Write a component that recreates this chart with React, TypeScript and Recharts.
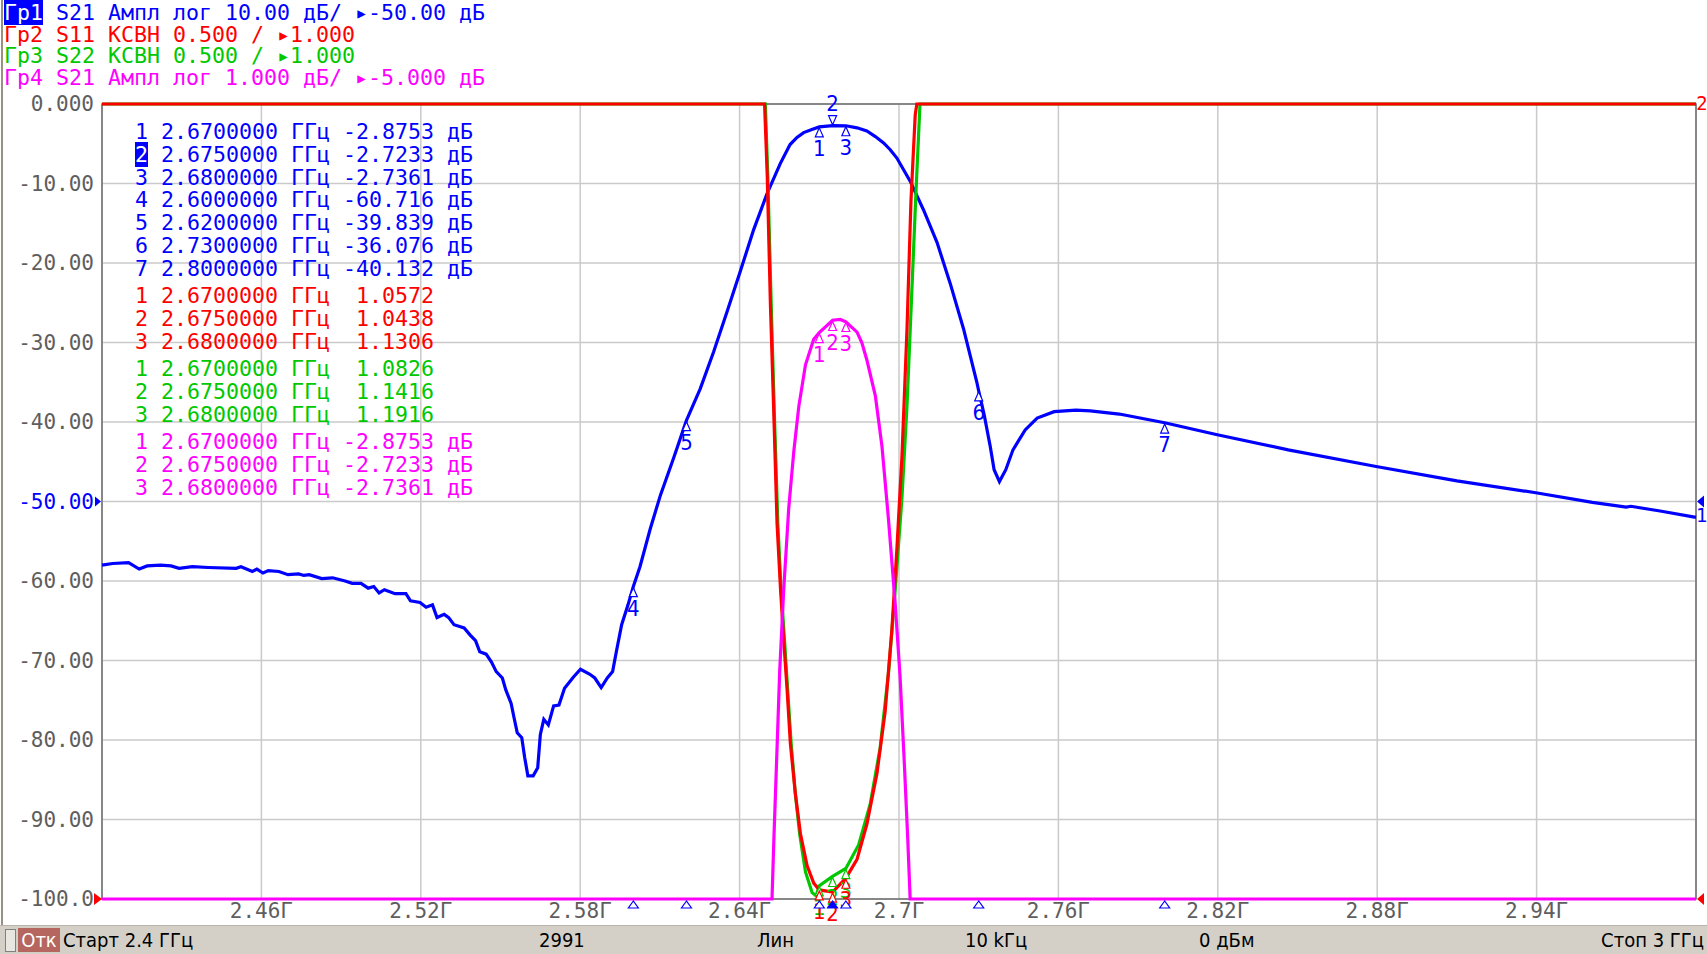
import React from 'react';
import {
  LineChart,
  Line,
  XAxis,
  YAxis,
  CartesianGrid,
  ReferenceArea,
  ReferenceDot,
} from 'recharts';

const BLUE = '#0000ff';
const RED = '#ff0000';
const GREEN = '#00c800';
const MAGENTA = '#ff00ff';
const AXIS_TEXT = '#5e5e5e';
const MONO = '"DejaVu Sans Mono", "Liberation Mono", monospace';
const NARROW = '"Liberation Sans Narrow", "DejaVu Sans Condensed", "Liberation Sans", sans-serif';

// оси
const xTicks = [2.46, 2.52, 2.58, 2.64, 2.7, 2.76, 2.82, 2.88, 2.94];
const xTickLabels = ['2.46Г', '2.52Г', '2.58Г', '2.64Г', '2.7Г', '2.76Г', '2.82Г', '2.88Г', '2.94Г'];
const yTicks = [0, -10, -20, -30, -40, -50, -60, -70, -80, -90, -100];
const yTickLabels = ['0.000', '-10.00', '-20.00', '-30.00', '-40.00', '-50.00', '-60.00', '-70.00', '-80.00', '-90.00', '-100.0'];

// Гр1: S21, дБ (10 дБ/дел)
const s21Freq = [
  2.4, 2.404, 2.41, 2.414, 2.417, 2.422, 2.426, 2.429, 2.434, 2.44, 2.4505, 2.4523, 2.4566, 2.4583,
  2.4606, 2.4626, 2.4666, 2.47, 2.474, 2.476, 2.478, 2.4827, 2.4868, 2.4915, 2.4942, 2.4975, 2.5002,
  2.5023, 2.5043, 2.5063, 2.5103, 2.5144, 2.5161, 2.5197, 2.522, 2.5244, 2.5261, 2.5288, 2.5305,
  2.5325, 2.5363, 2.5386, 2.5406, 2.5422, 2.5446, 2.5466, 2.5484, 2.5507, 2.552, 2.554, 2.5551,
  2.5563, 2.558, 2.5591, 2.5603, 2.5623, 2.564, 2.565, 2.5663, 2.568, 2.57, 2.572, 2.5741, 2.5774,
  2.5801, 2.5835, 2.5855, 2.5879, 2.5902, 2.5922, 2.5936, 2.5956, 2.598, 2.6, 2.6025, 2.6064, 2.6102,
  2.6152, 2.62, 2.6252, 2.6302, 2.6353, 2.6403, 2.6453, 2.6503, 2.6553, 2.659, 2.6616, 2.6641, 2.6672,
  2.67, 2.675, 2.68, 2.6842, 2.6879, 2.6911, 2.6942, 2.6967, 2.6992, 2.7042, 2.7092, 2.7143, 2.7193,
  2.7243, 2.7293, 2.73, 2.732, 2.7343, 2.7358, 2.7378, 2.7402, 2.7429, 2.7475, 2.752, 2.7584, 2.7666,
  2.772, 2.7829, 2.8, 2.8198, 2.8465, 2.8796, 2.91, 2.9397, 2.961, 2.9737, 2.9755, 2.9865, 3.0,
];
const s21Db = [
  -58.0, -57.8, -57.7, -58.5, -58.1, -58.0, -58.1, -58.4, -58.2, -58.3, -58.4, -58.2, -58.8, -58.5,
  -59.0, -58.7, -58.8, -59.2, -59.1, -59.3, -59.2, -59.7, -59.6, -60.0, -60.3, -60.3, -60.9,
  -60.7, -61.5, -61.1, -61.6, -61.6, -62.5, -62.7, -63.3, -63.0, -64.6, -64.2, -64.6,
  -65.5, -65.9, -66.8, -67.5, -68.9, -69.2, -70.2, -71.4, -72.2, -73.7, -75.4, -77.2,
  -79.1, -79.7, -82.2, -84.5, -84.5, -83.5, -79.3, -77.4, -78.1, -75.7, -75.6, -73.5, -72.1,
  -71.1, -71.7, -72.2, -73.4, -72.2, -71.4, -68.9, -65.5, -63.0, -60.7, -58.2, -53.4, -49.2,
  -44.5, -39.8, -35.8, -31.2, -26.1, -21.0, -15.8, -11.3, -7.5, -5.1, -4.2, -3.6, -3.2,
  -2.88, -2.72, -2.74, -3.0, -3.4, -4.1, -4.9, -5.75, -6.8, -9.7, -13.3, -17.4, -22.6,
  -28.3, -35.0, -36.1, -39.0, -43.0, -46.0, -47.5, -46.0, -43.5, -41.0, -39.5, -38.7, -38.5,
  -38.6, -39.0, -40.1, -41.6, -43.5, -45.6, -47.4, -48.9, -50.1, -50.7, -50.6, -51.2, -52.0,
];

// Гр2: S11, КСВН (0.5/дел, опора 1.000 внизу)
const s11Freq = [
  2.4, 2.6494, 2.6504, 2.6516, 2.6529, 2.6541, 2.6554, 2.6566, 2.6579, 2.6591, 2.661, 2.6629, 2.6654,
  2.6679, 2.67, 2.675, 2.68, 2.6842, 2.6879, 2.6917, 2.6948, 2.6973, 2.6992, 2.7011, 2.703, 2.7045,
  2.7061, 2.7067, 3.0,
];
const s11Swr = [
  6.0, 6.0, 5.55, 4.74, 4.04, 3.36, 2.95, 2.63, 2.31, 1.98, 1.66, 1.41, 1.21,
  1.1, 1.057, 1.044, 1.131, 1.25, 1.47, 1.79, 2.18, 2.69, 3.2, 3.78, 4.58, 5.39,
  5.93, 6.0, 6.0,
];

// Гр3: S22, КСВН
const s22Freq = [
  2.4, 2.6497, 2.6506, 2.6519, 2.6531, 2.6544, 2.6556, 2.6569, 2.6581, 2.6594, 2.661, 2.6626, 2.6648,
  2.6673, 2.6688, 2.67, 2.675, 2.68, 2.6848, 2.6892, 2.6929, 2.6961, 2.6986, 2.7011, 2.703, 2.7048,
  2.7064, 2.7079, 3.0,
];
const s22Swr = [
  6.0, 6.0, 5.55, 4.74, 4.04, 3.36, 2.95, 2.63, 2.31, 1.98, 1.66, 1.41, 1.17,
  1.04, 1.02, 1.083, 1.142, 1.192, 1.34, 1.6, 1.95, 2.43, 2.95, 3.52, 4.1, 4.81,
  5.45, 6.0, 6.0,
];

// Гр4: S21, дБ (1 дБ/дел, опора -5 в центре)
const s21fFreq = [
  2.4, 2.6522, 2.6529, 2.6539, 2.6551, 2.6566, 2.6585, 2.6604, 2.6623, 2.6648, 2.6679, 2.67, 2.675,
  2.6779, 2.68, 2.6842, 2.686, 2.6879, 2.6911, 2.6936, 2.696, 2.6986, 2.7004, 2.702, 2.7033, 2.7042, 3.0,
];
const s21fDb = [
  -10, -10, -9.25, -8.29, -7.13, -6.11, -5.08, -4.37, -3.8, -3.28, -2.96, -2.875, -2.72,
  -2.71, -2.74, -2.87, -3.0, -3.22, -3.67, -4.31, -5.21, -6.3, -7.2, -8.29, -9.25, -10, -10,
];

// маркеры
const mkFreq = [2.67, 2.675, 2.68, 2.6, 2.62, 2.73, 2.8];
const mkS21 = [-2.8753, -2.7233, -2.7361, -60.716, -39.839, -36.076, -40.132];
const mkS11 = [1.0572, 1.0438, 1.1306];
const mkS22 = [1.0826, 1.1416, 1.1916];
const mkS21f = [-2.8753, -2.7233, -2.7361];

const zip = (f: number[], v: number[]) => f.map((x, i) => ({ f: x, v: v[i] }));
const s21Data = zip(s21Freq, s21Db);
const s11Data = zip(s11Freq, s11Swr);
const s22Data = zip(s22Freq, s22Swr);
const s21fData = zip(s21fFreq, s21fDb);

const headerIds = ['Гр1', 'Гр2', 'Гр3', 'Гр4'];
const headerTexts = [
  ' S21 Ампл лог 10.00 дБ/ ▸-50.00 дБ',
  ' S11 КСВН 0.500 / ▸1.000',
  ' S22 КСВН 0.500 / ▸1.000',
  ' S21 Ампл лог 1.000 дБ/ ▸-5.000 дБ',
];
const headerColors = [BLUE, RED, GREEN, MAGENTA];

function XTick(props: any) {
  const { x, payload } = props;
  const i = xTicks.findIndex((t) => Math.abs(t - payload.value) < 1e-9);
  return (
    <text x={x} y={911} textAnchor="middle" dominantBaseline="central" fill={AXIS_TEXT} fontSize={21} fontFamily={MONO}>
      {xTickLabels[i]}
    </text>
  );
}

function YTick(props: any) {
  const { y, payload } = props;
  const i = yTicks.indexOf(payload.value);
  const isRef = payload.value === -50;
  return (
    <g>
      <text x={94} y={y} textAnchor="end" dominantBaseline="central" fill={isRef ? BLUE : AXIS_TEXT} fontSize={21} fontFamily={MONO}>
        {yTickLabels[i]}
      </text>
      {isRef && <polygon points={`95,${y - 5} 101,${y} 95,${y + 5}`} fill={BLUE} />}
      {payload.value === -100 && <polygon points={`94,${y - 6} 102,${y} 94,${y + 6}`} fill={RED} />}
    </g>
  );
}

function markerShape(color: string, label: string, above: boolean, dx = 0) {
  return (p: any) => {
    const { cx, cy } = p;
    if (cx == null || cy == null) return <g />;
    const tri = above
      ? `${cx},${cy - 1} ${cx - 4},${cy - 10} ${cx + 4},${cy - 10}`
      : `${cx},${cy + 1} ${cx - 4},${cy + 10} ${cx + 4},${cy + 10}`;
    return (
      <g>
        <polygon points={tri} fill="#ffffff" stroke={color} strokeWidth={1.2} />
        <text x={cx + dx} y={above ? cy - 15 : cy + 29} textAnchor="middle" fill={color} fontSize={22} fontFamily={NARROW}>
          {label}
        </text>
      </g>
    );
  };
}

function axisMark(filled: boolean) {
  return (p: any) => {
    const { cx, cy } = p;
    if (cx == null || cy == null) return <g />;
    return (
      <polygon
        points={`${cx},${cy + 2} ${cx - 5},${cy + 9} ${cx + 5},${cy + 9}`}
        fill={filled ? BLUE : '#ffffff'}
        stroke={BLUE}
        strokeWidth={1.2}
      />
    );
  };
}

const rightRef = (p: any) => {
  const { cx, cy } = p;
  return (
    <g>
      <polygon points={`${cx + 8},${cy - 6} ${cx + 1},${cy} ${cx + 8},${cy + 6}`} fill={BLUE} />
      <text x={cx + 6} y={cy + 20} textAnchor="middle" fill={BLUE} fontSize={20} fontFamily={NARROW}>1</text>
    </g>
  );
};
const rightTop = (p: any) => {
  const { cx, cy } = p;
  return (
    <text x={cx + 6} y={cy + 6} textAnchor="middle" fill={RED} fontSize={20} fontFamily={NARROW}>2</text>
  );
};
const rightBottom = (p: any) => {
  const { cx, cy } = p;
  return <polygon points={`${cx + 8},${cy - 6} ${cx + 1},${cy} ${cx + 8},${cy + 6}`} fill={RED} />;
};

function fmtRow(f: number, v: number, unit: string) {
  const val = v.toPrecision(5);
  return `${f.toFixed(7)} ГГц ${v < 0 ? val : ' ' + val}${unit}`;
}

export default function App() {
  const tableRows: { n: number; text: string; color: string; y: number; hl?: boolean }[] = [];
  mkFreq.forEach((f, i) =>
    tableRows.push({ n: i + 1, text: fmtRow(f, mkS21[i], ' дБ'), color: BLUE, y: 131.7 + 22.9 * i, hl: i === 1 })
  );
  mkS11.forEach((v, i) => tableRows.push({ n: i + 1, text: fmtRow(mkFreq[i], v, ''), color: RED, y: 296.1 + 22.9 * i }));
  mkS22.forEach((v, i) => tableRows.push({ n: i + 1, text: fmtRow(mkFreq[i], v, ''), color: GREEN, y: 369.1 + 22.9 * i }));
  mkS21f.forEach((v, i) => tableRows.push({ n: i + 1, text: fmtRow(mkFreq[i], v, ' дБ'), color: MAGENTA, y: 442 + 22.9 * i }));

  const footer = [
    { t: 'Старт 2.4 ГГц', x: 63 },
    { t: '2991', x: 539 },
    { t: 'Лин', x: 757 },
    { t: '10 kГц', x: 965 },
    { t: '0 дБм', x: 1199 },
  ];

  return (
    <div style={{ position: 'absolute', left: 0, top: 0, width: 1707, height: 954, background: '#ffffff', overflow: 'hidden' }}>
      <LineChart
        width={1707}
        height={954}
        margin={{ top: 104, right: 11, bottom: 29, left: 8 }}
        style={{ position: 'absolute', left: 0, top: 0 }}
      >
        <CartesianGrid stroke="#cacaca" strokeWidth={1.5} />
        <XAxis
          type="number"
          dataKey="f"
          domain={[2.4, 3.0]}
          ticks={xTicks}
          interval={0}
          tick={<XTick />}
          axisLine={false}
          tickLine={false}
          height={26}
        />
        <YAxis
          type="number"
          domain={[-100, 0]}
          ticks={yTicks}
          interval={0}
          tick={<YTick />}
          axisLine={false}
          tickLine={false}
          width={94}
        />
        <YAxis yAxisId="swr" type="number" hide domain={[1, 6]} />
        <YAxis yAxisId="db1" type="number" hide domain={[-10, 0]} />
        <ReferenceArea x1={2.4} x2={3.0} y1={-100} y2={0} fill="none" stroke="#6e6e6e" strokeWidth={1.5} />

        <Line data={s21Data} dataKey="v" type="linear" stroke={BLUE} strokeWidth={3.2} dot={false} isAnimationActive={false} />
        <Line data={s22Data} dataKey="v" yAxisId="swr" type="linear" stroke={GREEN} strokeWidth={3.2} dot={false} isAnimationActive={false} />
        <Line data={s11Data} dataKey="v" yAxisId="swr" type="linear" stroke={RED} strokeWidth={3.2} dot={false} isAnimationActive={false} />
        <Line data={s21fData} dataKey="v" yAxisId="db1" type="linear" stroke={MAGENTA} strokeWidth={3.2} dot={false} isAnimationActive={false} />

        {mkFreq.map((f, i) => (
          <ReferenceDot key={`b${i}`} x={f} y={mkS21[i]} r={0} ifOverflow="visible" shape={markerShape(BLUE, String(i + 1), i === 1)} />
        ))}
        {mkS22.map((v, i) => (
          <ReferenceDot key={`g${i}`} x={mkFreq[i]} y={v} yAxisId="swr" r={0} ifOverflow="visible" shape={markerShape(GREEN, String(i + 1), false)} />
        ))}
        {mkS11.map((v, i) => (
          <ReferenceDot key={`r${i}`} x={mkFreq[i]} y={v} yAxisId="swr" r={0} ifOverflow="visible" shape={markerShape(RED, String(i + 1), false)} />
        ))}
        {mkS21f.map((v, i) => (
          <ReferenceDot key={`m${i}`} x={mkFreq[i]} y={v} yAxisId="db1" r={0} ifOverflow="visible" shape={markerShape(MAGENTA, String(i + 1), false)} />
        ))}
        {mkFreq.map((f, i) => (
          <ReferenceDot key={`a${i}`} x={f} y={-100} r={0} ifOverflow="visible" shape={axisMark(i === 1)} />
        ))}
        <ReferenceDot x={3.0} y={-50} r={0} ifOverflow="visible" shape={rightRef} />
        <ReferenceDot x={3.0} y={0} r={0} ifOverflow="visible" shape={rightTop} />
        <ReferenceDot x={3.0} y={-100} r={0} ifOverflow="visible" shape={rightBottom} />
      </LineChart>

      {/* рамка слева */}
      <div style={{ position: 'absolute', left: 1, top: 0, width: 2, height: 925, background: '#9a9080' }} />

      {/* заголовки трасс */}
      {headerIds.map((id, i) => (
        <div
          key={id}
          style={{
            position: 'absolute',
            left: 4,
            top: 13 + 21.7 * i - 12,
            height: 24,
            lineHeight: '24px',
            fontFamily: MONO,
            fontSize: 21.6,
            whiteSpace: 'pre',
            color: headerColors[i],
          }}
        >
          <span style={i === 0 ? { background: BLUE, color: '#ffffff' } : undefined}>{id}</span>
          {headerTexts[i]}
        </div>
      ))}

      {/* таблица маркеров */}
      {tableRows.map((r, i) => (
        <div
          key={i}
          style={{
            position: 'absolute',
            left: 135,
            top: r.y - 12,
            height: 24,
            lineHeight: '24px',
            fontFamily: MONO,
            fontSize: 21.6,
            whiteSpace: 'pre',
            color: r.color,
          }}
        >
          <span style={r.hl ? { background: BLUE, color: '#ffffff' } : undefined}>{r.n}</span>
          {' ' + r.text}
        </div>
      ))}

      {/* строка состояния */}
      <div style={{ position: 'absolute', left: 0, top: 925, width: 1707, height: 29, background: '#d4d0c8', borderTop: '1px solid #b8b4ac' }}>
        <div style={{ position: 'absolute', left: 5, top: 3, width: 9, height: 21, border: '1px solid #808080', background: '#e8e6e0' }} />
        <div
          style={{
            position: 'absolute',
            left: 18,
            top: 2,
            width: 42,
            height: 24,
            background: '#b5665e',
            color: '#ffffff',
            fontFamily: NARROW,
            fontSize: 20,
            lineHeight: '24px',
            textAlign: 'center',
          }}
        >
          Отк
        </div>
        {footer.map((t) => (
          <div
            key={t.t}
            style={{ position: 'absolute', left: t.x, top: 2, lineHeight: '24px', fontFamily: NARROW, fontSize: 20, color: '#000000', whiteSpace: 'pre' }}
          >
            {t.t}
          </div>
        ))}
        <div style={{ position: 'absolute', right: 3, top: 2, lineHeight: '24px', fontFamily: NARROW, fontSize: 20, color: '#000000', whiteSpace: 'pre' }}>
          Стоп 3 ГГц
        </div>
      </div>
    </div>
  );
}
